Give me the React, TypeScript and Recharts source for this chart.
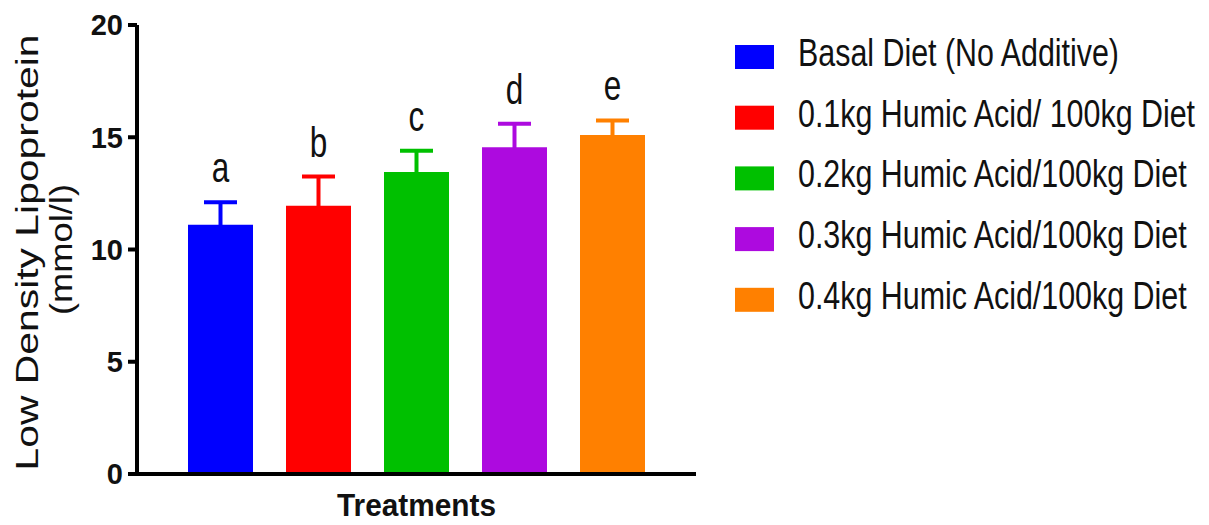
import React from 'react';
import { BarChart, Bar, XAxis, YAxis, ErrorBar, LabelList, Label } from 'recharts';

// LDL values per treatment (mean + SEM)
const treatments = [
  'Basal Diet (No Additive)',
  '0.1kg Humic Acid/ 100kg Diet',
  '0.2kg Humic Acid/100kg Diet',
  '0.3kg Humic Acid/100kg Diet',
  '0.4kg Humic Acid/100kg Diet',
];
const means = [11.1, 11.95, 13.45, 14.55, 15.1];
const errors = [1.0, 1.3, 0.95, 1.05, 0.65];
const letters = ['a', 'b', 'c', 'd', 'e'];
const yTicks = [0, 5, 10, 15, 20];

const COLORS = ['#0000FF', '#FF0000', '#00C000', '#AD0ADF', '#FF8000'];
const FONT = '"Liberation Sans", Arial, Helvetica, sans-serif';
const INK = '#111';

const row: Record<string, string | number> = { group: 'Treatments' };
treatments.forEach((_, i) => {
  row[`m${i}`] = means[i];
  row[`e${i}`] = errors[i];
  row[`l${i}`] = letters[i];
});
const data = [row];

const YLabel = (props: any) => {
  const vb = props.viewBox || { x: 0, y: 25, width: 137, height: 449 };
  const cy = vb.y + vb.height / 2;
  return (
    <g fill={INK} fontFamily={FONT} fontSize={32}>
      <text transform={`translate(38,${cy + 3}) rotate(-90)`} textAnchor="middle" textLength={436} lengthAdjust="spacingAndGlyphs">
        Low Density Lipoprotein
      </text>
      <text transform={`translate(72,${cy}) rotate(-90)`} textAnchor="middle" textLength={131} lengthAdjust="spacingAndGlyphs">
        (mmol/l)
      </text>
    </g>
  );
};

const XLabel = (props: any) => {
  const vb = props.viewBox || { x: 137, y: 474, width: 559, height: 51 };
  return (
    <text x={vb.x + vb.width / 2} y={516} textAnchor="middle" fill={INK} fontFamily={FONT} fontSize={32} fontWeight={700} textLength={159} lengthAdjust="spacingAndGlyphs">
      Treatments
    </text>
  );
};

const letterContent = (i: number) => (p: any) => {
  const x = Number(p.x);
  const y = Number(p.y);
  const w = Number(p.width);
  const h = Number(p.height);
  const perUnit = h / means[i];
  const capY = y - errors[i] * perUnit;
  return (
    <text
      transform={`translate(${x + w / 2},${capY - 20}) scale(0.75,1)`}
      textAnchor="middle"
      fill={INK}
      fontFamily={FONT}
      fontSize={42}
    >
      {p.value}
    </text>
  );
};

const TickText = (props: any) => {
  const { x, y, payload } = props;
  return (
    <text
      x={x}
      y={y}
      dy="0.36em"
      textAnchor="end"
      style={{ fill: INK, fontFamily: FONT, fontSize: 29, fontWeight: 700 }}
    >
      {payload ? payload.value : ''}
    </text>
  );
};

const LegendBlock = () => (
  <svg width={1209} height={525} style={{ position: 'absolute', left: 0, top: 0, pointerEvents: 'none' }}>
    {treatments.map((t, i) => {
      const cy = 57 + i * 60.7;
      return (
        <g key={t}>
          <rect x={735} y={cy - 12} width={39} height={24} fill={COLORS[i]} />
          <text transform={`translate(798,${cy + 9}) scale(0.8,1)`} fill={INK} fontFamily={FONT} fontSize={38}>
            {t}
          </text>
        </g>
      );
    })}
  </svg>
);

export default function App() {
  return (
    <div style={{ position: 'absolute', left: 0, top: 0, width: 1209, height: 525, background: '#fff', fontFamily: FONT }}>
      <BarChart
        width={1209}
        height={525}
        data={data}
        margin={{ top: 25, right: 513, bottom: 0, left: 0 }}
        barSize={65}
        barGap={33}
      >
        <XAxis
          dataKey="group"
          height={51}
          tick={false}
          tickLine={false}
          axisLine={{ stroke: '#000', strokeWidth: 4 }}
        >
          <Label content={XLabel} />
        </XAxis>
        <YAxis
          width={137}
          domain={[0, 20]}
          ticks={yTicks}
          interval={0}
          allowDataOverflow
          tickSize={9}
          tickMargin={5}
          axisLine={{ stroke: '#000', strokeWidth: 4 }}
          tickLine={{ stroke: '#000', strokeWidth: 4 }}
          tick={<TickText />}
        >
          <Label content={YLabel} />
        </YAxis>
        {treatments.map((t, i) => (
          <Bar key={t} dataKey={`m${i}`} name={t} fill={COLORS[i]} isAnimationActive={false}>
            <ErrorBar dataKey={`e${i}`} direction="y" width={16.5} strokeWidth={4} stroke={COLORS[i]} isAnimationActive={false} />
            <LabelList dataKey={`l${i}`} content={letterContent(i)} />
          </Bar>
        ))}
      </BarChart>
      <LegendBlock />
    </div>
  );
}
